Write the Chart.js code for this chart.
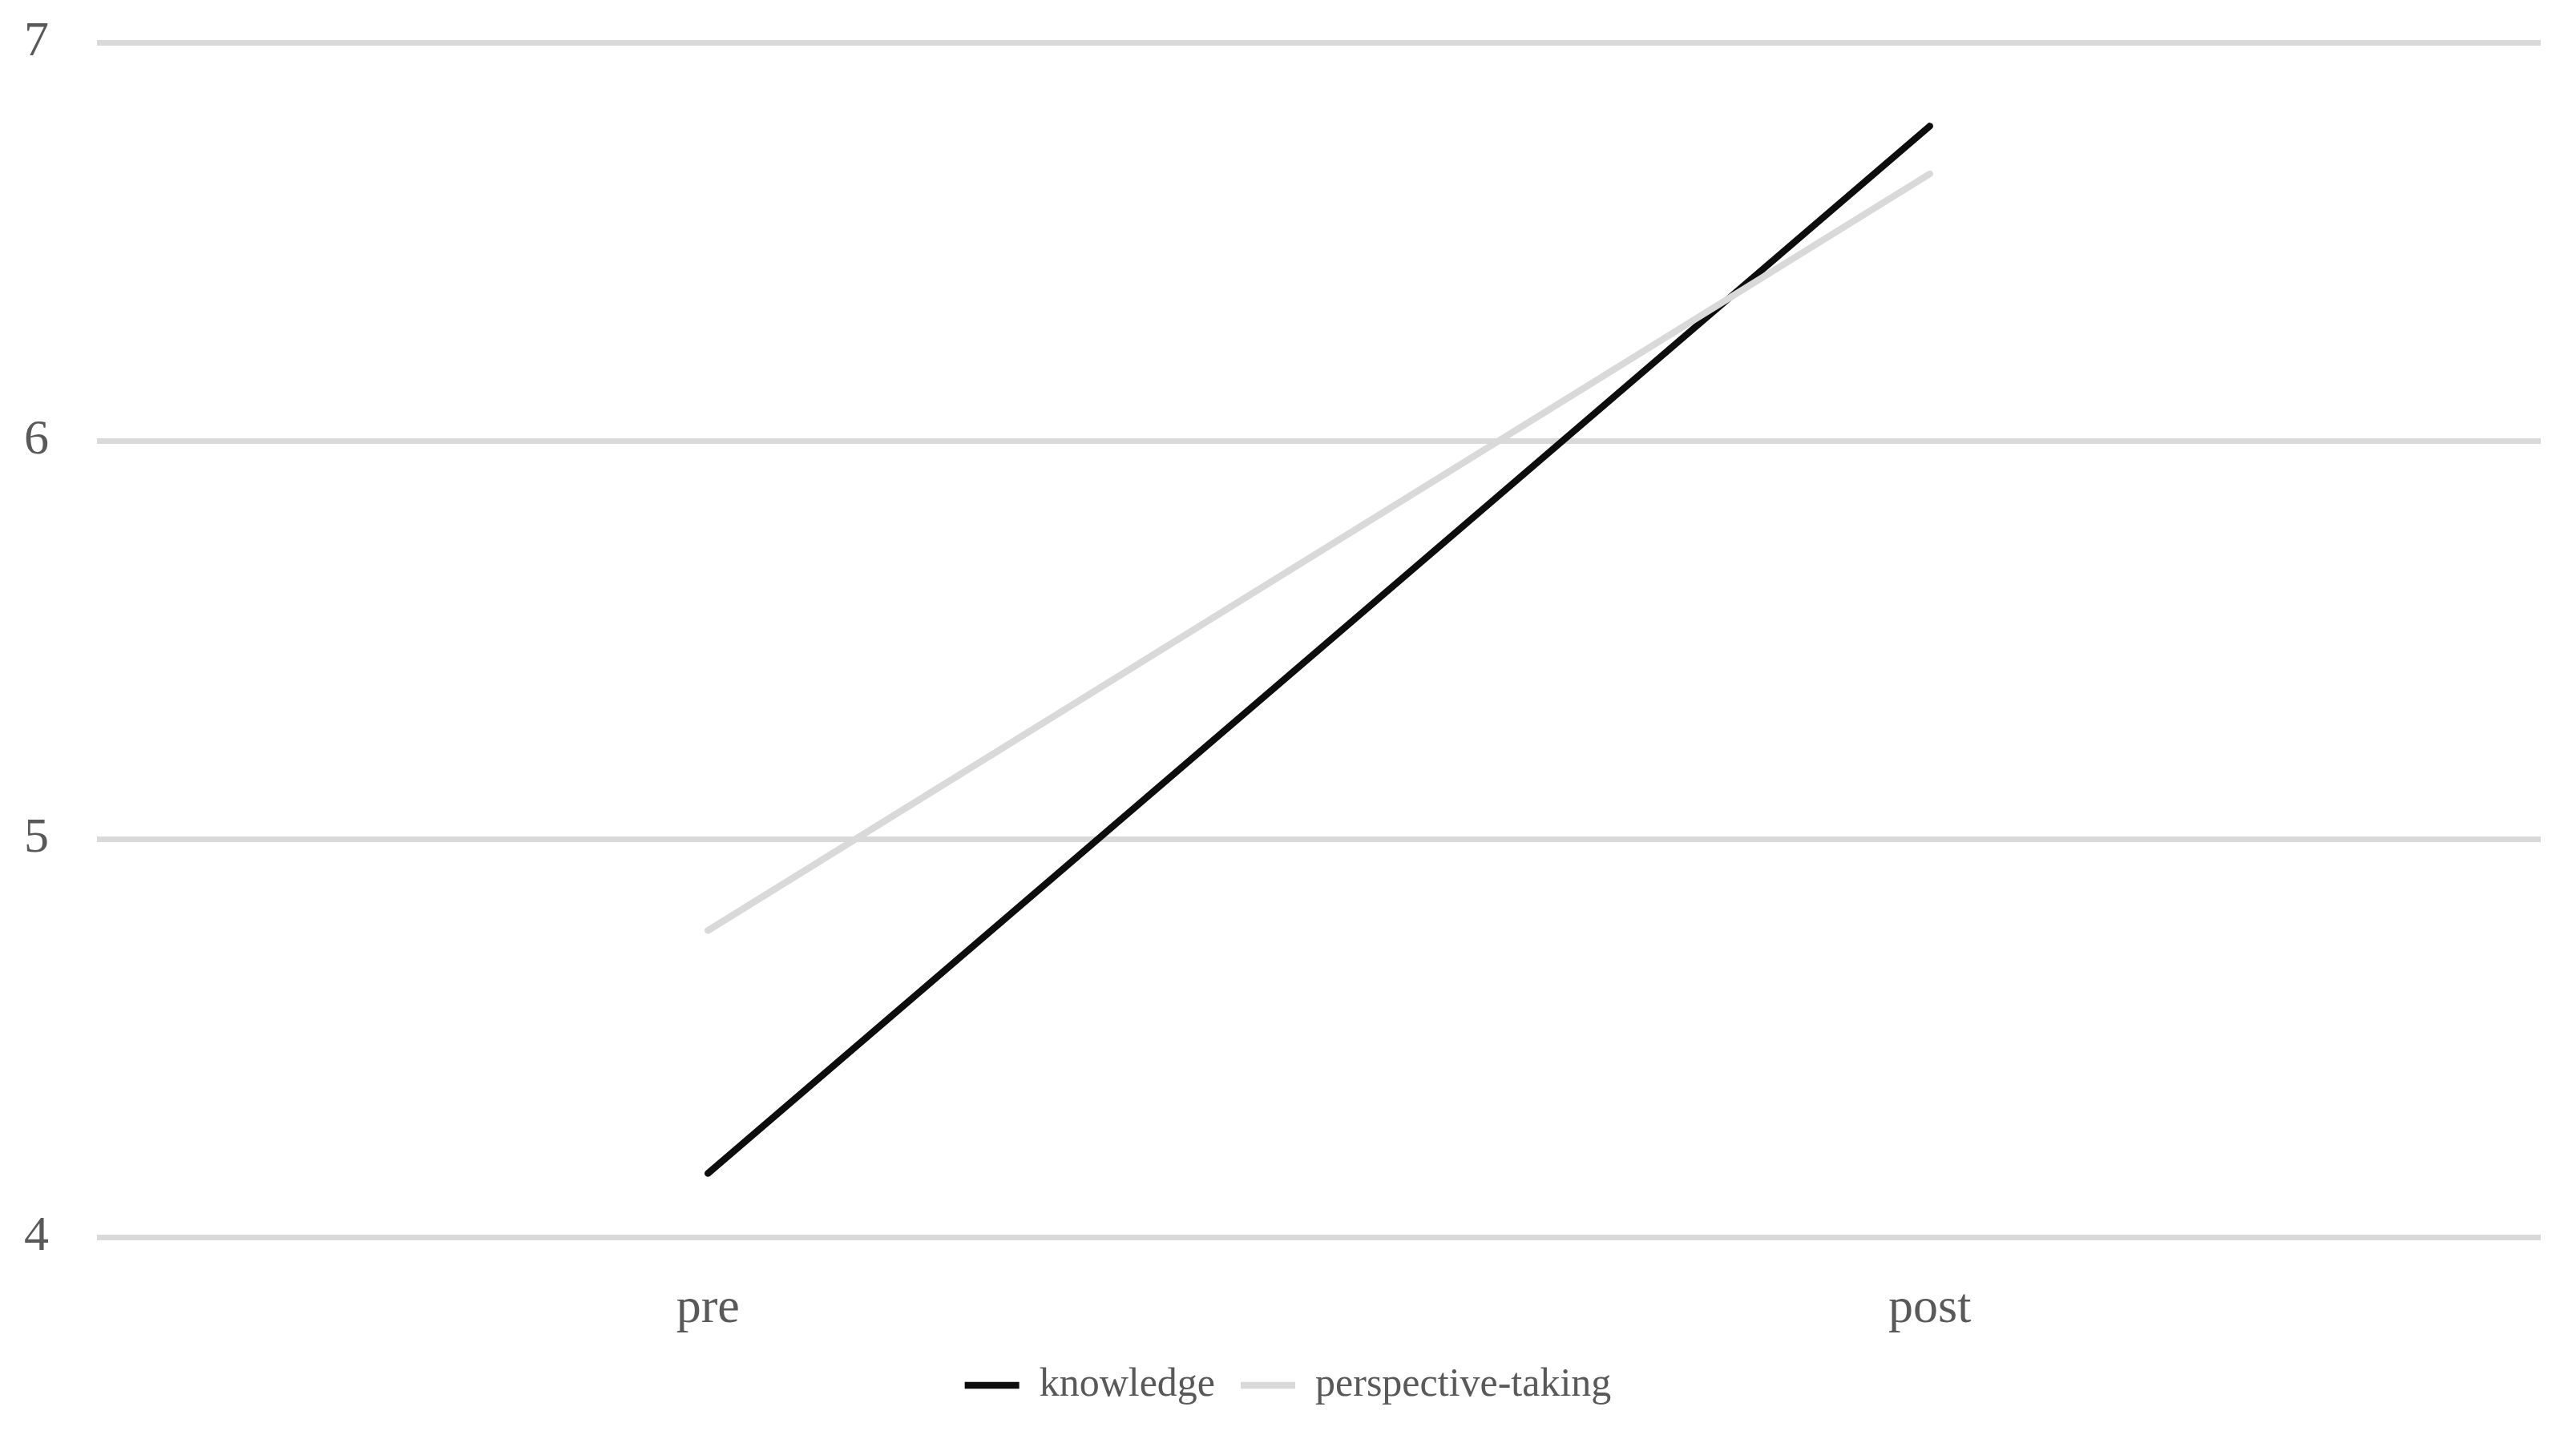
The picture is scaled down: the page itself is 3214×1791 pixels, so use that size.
<!DOCTYPE html>
<html>
<head>
<meta charset="utf-8">
<script src="https://cdn.jsdelivr.net/npm/chart.js@4/dist/chart.umd.min.js"></script>
<style>
	html, body { margin: 0; padding: 0; background: #fff; }
	#wrap { width: 3214px; height: 1791px; }
</style>
</head>
<body>
<div id="wrap"><canvas id="lineChart" width="3214" height="1791"></canvas></div>
<script>
// data
const categories = ['pre', 'post'];
const knowledge = [4.16, 6.79];
const perspectiveTaking = [4.77, 6.67];
const yTicks = [4, 5, 6, 7];

document.addEventListener('DOMContentLoaded', function () {
	const fontFamily = '"Liberation Serif", "DejaVu Serif", serif';

	// centre the legend on the whole canvas, not on the padded box
	const centerLegend = {
		id: 'centerLegend',
		afterLayout(chart) {
			const lg = chart.legend;
			if (!lg) return;
			const shift = (chart.width - (lg.left + lg.right)) / 2;
			lg.left += shift;
			lg.right += shift;
		}
	};

	new Chart(document.getElementById('lineChart'), {
		type: 'line',
		data: {
			labels: categories,
			datasets: [{
				label: 'knowledge',
				data: knowledge,
				borderColor: '#0d0d0d',
				backgroundColor: '#0d0d0d',
				borderWidth: 8.5,
				borderCapStyle: 'round',
				pointRadius: 0,
				tension: 0,
				order: 1
			}, {
				label: 'perspective-taking',
				data: perspectiveTaking,
				borderColor: '#d9d9d9',
				backgroundColor: '#d9d9d9',
				borderWidth: 8.5,
				borderCapStyle: 'round',
				pointRadius: 0,
				tension: 0,
				order: 0
			}]
		},
		plugins: [centerLegend],
		options: {
			responsive: false,
			animation: false,
			layout: {
				padding: { top: 53, left: 0, right: 44, bottom: 27 }
			},
			scales: {
				x: {
					offset: true,
					grid: { display: false, drawTicks: false },
					border: { display: false },
					ticks: {
						color: '#595959',
						padding: 53,
						font: { family: fontFamily, size: 62 }
					},
					afterFit: function (axis) {
						axis.height = 128;
					}
				},
				y: {
					min: yTicks[0],
					max: yTicks[yTicks.length - 1],
					afterBuildTicks: function (axis) {
						axis.ticks = yTicks.map(v => ({ value: v }));
					},
					grid: { color: '#d9d9d9', lineWidth: 7, drawTicks: false },
					border: { display: false },
					ticks: {
						color: '#595959',
						padding: 60,
						font: { family: fontFamily, size: 62 }
					},
					afterFit: function (axis) {
						axis.width = 121;
						axis.paddingTop = 0;
						axis.paddingBottom = 0;
					}
				}
			},
			plugins: {
				legend: {
					position: 'bottom',
					labels: {
						usePointStyle: true,
						pointStyle: 'line',
						pointStyleWidth: 68,
						boxHeight: 9,
						padding: 32,
						color: '#595959',
						font: { family: fontFamily, size: 50 },
						sort: (a, b) => a.datasetIndex - b.datasetIndex
					}
				},
				tooltip: { enabled: false }
			}
		}
	});
});
</script>
</body>
</html>
